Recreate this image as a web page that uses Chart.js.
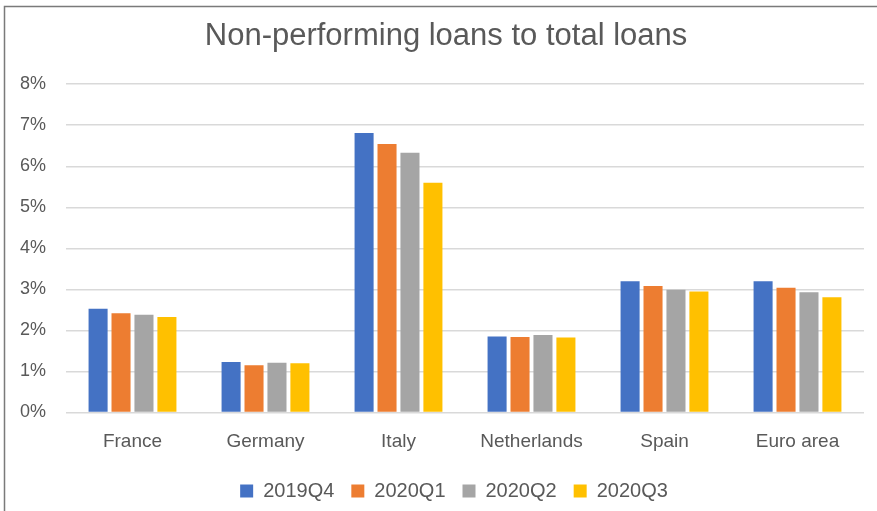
<!DOCTYPE html>
<html>
<head>
<meta charset="utf-8">
<script src="https://cdn.jsdelivr.net/npm/chart.js@4"></script>
<style>
  html, body { margin: 0; padding: 0; background: #fff; }
  #wrap { width: 877px; height: 511px; position: relative; }
</style>
</head>
<body>
<div id="wrap"><canvas id="nplChart" width="877" height="511"></canvas></div>
<script>
// NPL ratios by country, percent of total loans
const countries = ['France', 'Germany', 'Italy', 'Netherlands', 'Spain', 'Euro area'];
const q2019q4 = [2.53, 1.23, 6.81, 1.85, 3.20, 3.20];
const q2020q1 = [2.42, 1.15, 6.54, 1.84, 3.08, 3.04];
const q2020q2 = [2.38, 1.21, 6.33, 1.89, 2.99, 2.93];
const q2020q3 = [2.33, 1.20, 5.60, 1.83, 2.95, 2.81];
const quarters = ['2019Q4', '2020Q1', '2020Q2', '2020Q3'];
const colors = ['#4472C4', '#ED7D31', '#A5A5A5', '#FFC000'];

const FONT = "'Liberation Sans', Arial, sans-serif";
const TEXT = '#595959';

// chart frame: top and left edges, the rest runs off the canvas
const framePlugin = {
  id: 'frame',
  afterDraw(chart) {
    const c = chart.ctx;
    c.save();
    c.strokeStyle = '#7a7a7a';
    c.lineWidth = 1.5;
    c.strokeRect(4.5, 6.5, 890, 520);
    c.restore();
  }
};

// title and legend sit a little right of the plot centre
const nudgePlugin = {
  id: 'nudge',
  afterLayout(chart) {
    const t = chart.titleBlock, l = chart.legend;
    if (t) { t.left += 14; t.right += 14; }
    if (l) { l.left += 22; l.right += 22; }
  }
};

const series = [q2019q4, q2020q1, q2020q2, q2020q3];

new Chart(document.getElementById('nplChart'), {
  type: 'bar',
  data: {
    labels: countries,
    datasets: series.map((vals, i) => ({
      label: quarters[i],
      data: vals,
      backgroundColor: colors[i],
      borderWidth: 0,
      categoryPercentage: 0.69,
      barPercentage: 0.83
    }))
  },
  plugins: [framePlugin, nudgePlugin],
  options: {
    responsive: false,
    animation: false,
    layout: { padding: { left: 0, right: 13, top: 0, bottom: 0 } },
    plugins: {
      title: {
        display: true,
        text: 'Non-performing loans to total loans',
        color: TEXT,
        font: { family: FONT, size: 31, weight: 'normal' },
        padding: { top: 18, bottom: 29 }
      },
      legend: {
        position: 'bottom',
        labels: {
          color: TEXT,
          font: { family: FONT, size: 20 },
          boxWidth: 13,
          boxHeight: 13,
          padding: 17
        }
      },
      tooltip: { enabled: false }
    },
    scales: {
      x: {
        afterFit(scale) { scale.height = 51.5; },
        grid: { display: false },
        border: { display: false },
        ticks: { color: TEXT, font: { family: FONT, size: 19 }, padding: 10 }
      },
      y: {
        min: 0,
        max: 8,
        afterFit(scale) { scale.width = 66; },
        grid: { color: '#D9D9D9', lineWidth: 1.5, drawTicks: false },
        border: { display: false },
        ticks: {
          stepSize: 1,
          color: TEXT,
          font: { family: FONT, size: 18 },
          padding: 20,
          callback: v => v + '%'
        }
      }
    }
  }
});
</script>
</body>
</html>
